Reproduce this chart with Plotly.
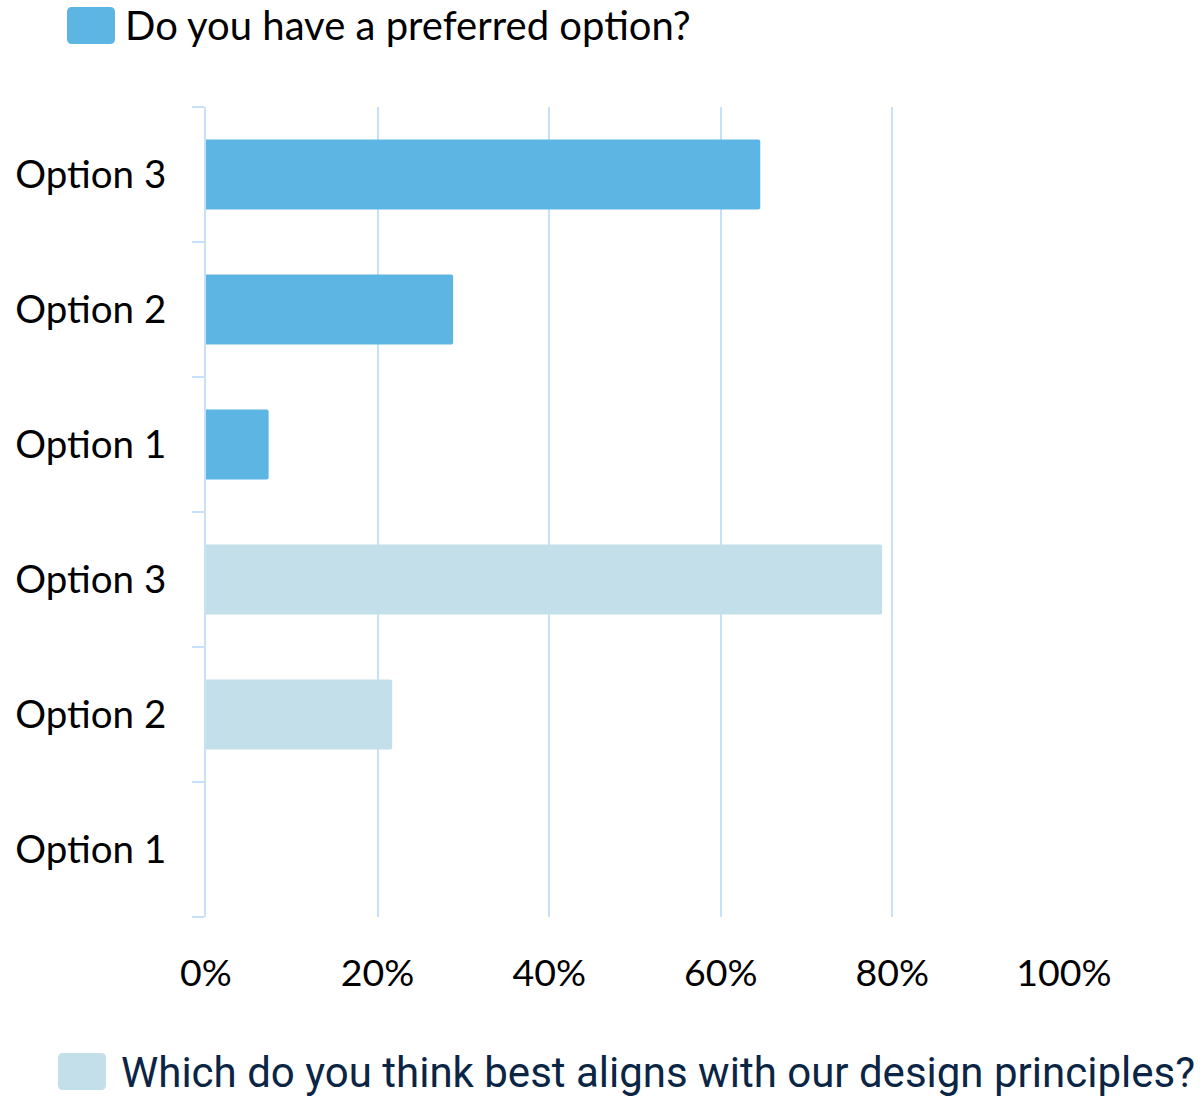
import plotly.graph_objects as go

categories = ["Option 1", "Option 2", "Option 3"]
preferred_values = [0.073, 0.288, 0.646]
align_values = [0.0, 0.217, 0.788]
x_ticks = [0, 0.2, 0.4, 0.6, 0.8, 1.0]
x_tick_labels = ["0%", "20%", "40%", "60%", "80%", "100%"]
legend_pref = "Do you have a preferred option?"
legend_align = "Which do you think best aligns with our design principles?"

pref_keys = ["pref|" + c for c in categories]
align_keys = ["align|" + c for c in categories]
order = align_keys + pref_keys

BLUE = "#5DB5E3"
LIGHT = "#C2DFEA"
GRID = "#C8E1FB"

fig = go.Figure()
fig.add_trace(go.Bar(y=pref_keys, x=preferred_values, orientation="h",
                     marker=dict(color=BLUE, line=dict(width=0)), width=0.52,
                     name=legend_pref, showlegend=False))
fig.add_trace(go.Bar(y=align_keys, x=align_values, orientation="h",
                     marker=dict(color=LIGHT, line=dict(width=0)), width=0.52,
                     name=legend_align, showlegend=False))

def rr(x0, y0, x1, y1, r=5):
    return (f"M{x0+r},{y0} L{x1-r},{y0} Q{x1},{y0} {x1},{y0+r} "
            f"L{x1},{y1-r} Q{x1},{y1} {x1-r},{y1} L{x0+r},{y1} "
            f"Q{x0},{y1} {x0},{y1-r} L{x0},{y0+r} Q{x0},{y0} {x0+r},{y0} Z")

shapes = [
    dict(type="path", xref="paper", yref="paper", xsizemode="pixel", ysizemode="pixel",
         xanchor=0, yanchor=1, path=rr(-139, 63, -91, 100), fillcolor=BLUE, line=dict(width=0)),
    dict(type="path", xref="paper", yref="paper", xsizemode="pixel", ysizemode="pixel",
         xanchor=0, yanchor=1, path=rr(-148, -983, -100, -946), fillcolor=LIGHT, line=dict(width=0)),
]

annotations = [
    dict(text=legend_pref, xref="paper", yref="paper", x=0, y=1, xshift=-83, yshift=108,
         xanchor="left", yanchor="top", showarrow=False,
         font=dict(family="Lato", size=40, color="#000000")),
    dict(text=legend_align, xref="paper", yref="paper", x=0, y=0, xshift=-87, yshift=-182,
         xanchor="left", yanchor="bottom", showarrow=False,
         font=dict(family="Roboto", size=42, weight=400, color="#0B2545")),
]

fig.update_layout(
    width=1202, height=1099,
    margin=dict(l=206, r=138, t=107, b=182, autoexpand=False),
    paper_bgcolor="white", plot_bgcolor="white",
    barmode="overlay", barcornerradius=2,
    showlegend=False,
    font=dict(family="Lato", color="#000000"),
    shapes=shapes, annotations=annotations,
    xaxis=dict(range=[0, 1], tickvals=x_ticks, ticktext=x_tick_labels,
               showgrid=True, gridcolor=GRID, gridwidth=2, zeroline=False,
               showline=False, ticks="", ticklabelstandoff=30, automargin=False,
               tickfont=dict(family="Lato", size=37.5, color="#000000")),
    yaxis=dict(type="category", categoryorder="array", categoryarray=order,
               tickvals=order, ticktext=categories + categories,
               tickson="boundaries", ticks="outside", ticklen=12, tickwidth=2,
               tickcolor=GRID, showline=True, linecolor=GRID, linewidth=2,
               showgrid=False, zeroline=False, ticklabelstandoff=30, automargin=False,
               tickfont=dict(family="Lato", size=38.5, color="#000000")),
)

fig.write_html("out.html", config={"displayModeBar": False},
               post_script="document.body.style.margin='0';document.body.style.overflow='hidden';")
